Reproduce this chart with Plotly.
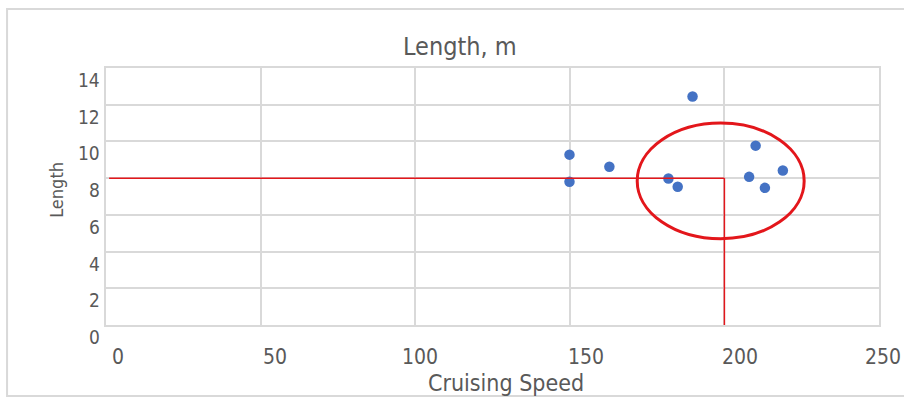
import plotly.graph_objects as go

# Cruising speed vs. length for the sample aircraft
speed = [189.7, 149.9, 149.9, 162.8, 181.9, 184.9, 210.1, 208.0, 213.1, 218.9]
length = [12.45, 9.28, 7.80, 8.62, 7.98, 7.53, 9.77, 8.07, 7.47, 8.42]

x_ticks = [0, 50, 100, 150, 200, 250]
y_ticks = [0, 2, 4, 6, 8, 10, 12, 14]

# target point marked by the guide lines, and the highlighted cluster
target_speed = 200
target_length = 8
cluster_x = [171.8, 225.8]
cluster_y = [4.7, 11.0]

# horizontal nudge (px) applied to each x tick label
x_label_nudge = [12, 14, 5, 16, 16, 4]

FONT = "Liberation Sans Narrow, DejaVu Sans Condensed, Open Sans, sans-serif"
GREY = "#595959"
GRID = "#d9d9d9"
RED = "#e3161b"

fig = go.Figure()
fig.add_trace(go.Scatter(
    x=speed, y=length, mode="markers",
    marker=dict(color="#4472C4", size=10.5, line=dict(width=0)),
    hoverinfo="x+y", showlegend=False,
))

# guide lines to the target point
fig.add_shape(type="line", xref="x", yref="y", x0=1, y0=target_length,
              x1=target_speed, y1=target_length, line=dict(color=RED, width=1.5))
fig.add_shape(type="line", xref="x", yref="y", x0=target_speed, y0=target_length,
              x1=target_speed, y1=0, line=dict(color=RED, width=1.5))
# cluster highlight
fig.add_shape(type="circle", xref="x", yref="y", x0=cluster_x[0], x1=cluster_x[1],
              y0=cluster_y[0], y1=cluster_y[1], line=dict(color=RED, width=3))

# outer frame of the chart area (open on the right)
fig.add_shape(type="rect", xref="paper", yref="paper", x0=-0.128, x1=1.3,
              y0=-0.276, y1=1.23, line=dict(color=GRID, width=2), layer="below")

# tick labels, placed next to their grid lines
x_label_annotations = [
    dict(text=str(v), xref="x", yref="paper", x=v, y=-0.1226, xshift=dx,
         xanchor="center", yanchor="middle", showarrow=False,
         font=dict(size=21, color=GREY, family=FONT))
    for v, dx in zip(x_ticks, x_label_nudge)
]
y_label_annotations = [
    dict(text=str(v), xref="paper", yref="y", x=0, y=v, xshift=-4, yshift=-12,
         xanchor="right", yanchor="middle", showarrow=False,
         font=dict(size=19, color=GREY, family=FONT))
    for v in y_ticks
]

fig.update_layout(
    width=904, height=397,
    margin=dict(l=106, r=25, t=68, b=72, autoexpand=False),
    paper_bgcolor="white", plot_bgcolor="white",
    font=dict(family=FONT, color=GREY, size=18),
    xaxis=dict(
        range=[0, 250], tickvals=x_ticks, showticklabels=False,
        showgrid=True, gridcolor=GRID, gridwidth=2,
        showline=True, linecolor=GRID, linewidth=2, mirror=True,
        zeroline=False, ticks="", automargin=False,
    ),
    yaxis=dict(
        range=[0, 14], tickvals=y_ticks, showticklabels=False,
        showgrid=True, gridcolor=GRID, gridwidth=2,
        showline=True, linecolor=GRID, linewidth=2, mirror=True,
        zeroline=False, ticks="", automargin=False,
    ),
    annotations=x_label_annotations + y_label_annotations + [
        dict(text="Length, m", xref="paper", yref="paper", x=0.458, y=1.085,
             xanchor="center", yanchor="middle", showarrow=False,
             font=dict(size=25, color=GREY, family=FONT)),
        dict(text="Cruising Speed", xref="paper", yref="paper", x=0.517, y=-0.225,
             xanchor="center", yanchor="middle", showarrow=False,
             font=dict(size=23, color=GREY, family=FONT)),
        dict(text="Length", xref="paper", yref="paper", x=-0.065, y=0.525,
             xanchor="center", yanchor="middle", showarrow=False, textangle=-90,
             font=dict(size=18, color=GREY, family=FONT)),
    ],
)

fig.write_html("out.html")
